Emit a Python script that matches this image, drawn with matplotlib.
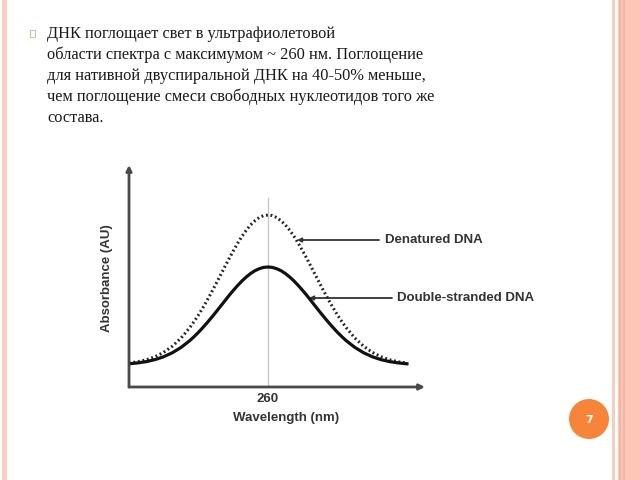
import matplotlib
matplotlib.use("Agg")
from matplotlib import pyplot as plt
from matplotlib.patches import Rectangle, Circle

# spectrum (wavelength in nm, absorbance in AU)
wavelength = [220, 222.5, 225, 227.5, 230, 232.5, 235, 237.5, 238.75, 240,
              241.25, 242.5, 243.75, 245, 246.25, 247.5, 248.75, 250, 251.25,
              252.5, 253.75, 255, 256.25, 257.5, 258.75, 260,
              261.25, 262.5, 263.75, 265, 266.25, 267.5, 268.75, 270, 271.25,
              272.5, 273.75, 275, 276.25, 277.5, 278.75, 280, 281.25, 282.5,
              285, 287.5, 290, 292.5, 295, 297.5, 300]
double_stranded = [0.232, 0.241, 0.254, 0.274, 0.303, 0.343, 0.396, 0.464, 0.504, 0.547,
                   0.594, 0.643, 0.695, 0.748, 0.803, 0.858, 0.913, 0.965, 1.014,
                   1.060, 1.100, 1.135, 1.163, 1.183, 1.196, 1.200,
                   1.196, 1.183, 1.163, 1.135, 1.100, 1.060, 1.014, 0.965, 0.913,
                   0.858, 0.803, 0.748, 0.695, 0.643, 0.594, 0.547, 0.504, 0.464,
                   0.396, 0.343, 0.303, 0.274, 0.254, 0.241, 0.232]
denatured = [0.239, 0.252, 0.272, 0.303, 0.347, 0.409, 0.490, 0.594, 0.655, 0.721,
             0.792, 0.868, 0.947, 1.029, 1.113, 1.197, 1.280, 1.360, 1.436,
             1.506, 1.568, 1.621, 1.663, 1.695, 1.714, 1.720,
             1.714, 1.695, 1.663, 1.621, 1.568, 1.506, 1.436, 1.360, 1.280,
             1.197, 1.113, 1.029, 0.947, 0.868, 0.792, 0.721, 0.655, 0.594,
             0.490, 0.409, 0.347, 0.303, 0.272, 0.252, 0.239]
peak_nm = 260
text_lines = ["ДНК поглощает свет в ультрафиолетовой",
              "области спектра с максимумом ~ 260 нм. Поглощение",
              "для нативной двуспиральной ДНК на 40-50% меньше,",
              "чем поглощение смеси свободных нуклеотидов того же",
              "состава."]
page_number = "7"

W, H = 640, 480
fig = plt.figure(figsize=(6.4, 4.8), dpi=100)
fig.patch.set_facecolor("white")

# background layer in pixel coordinates for the slide decorations
bg = fig.add_axes([0, 0, 1, 1])
bg.set_xlim(0, W)
bg.set_ylim(H, 0)
bg.axis("off")

bg.add_patch(Rectangle((2, 0), 5, H, color="#f9cfc2", lw=0))
bg.add_patch(Rectangle((612, 0), 2.5, H, color="#f3cdc0", lw=0))
bg.add_patch(Rectangle((618, 0), 22, H, color="#fdc6b6", lw=0))
bg.add_patch(Rectangle((619, 0), 1.5, H, color="#f3b6a2", lw=0))
bg.add_patch(Rectangle((623, 0), 1.5, H, color="#f3b6a2", lw=0))

bg.add_patch(Circle((589, 419), 20, color="#f6853a", lw=0))
bg.text(589, 420, page_number, color="white", fontsize=8, fontweight="bold",
        ha="center", va="center", family="DejaVu Sans")

# bullet box
bg.add_patch(Rectangle((30, 30), 5, 7, fill=False, ec="#e9b7a8", lw=0.8))

y0 = 33.5
for i, line in enumerate(text_lines):
    bg.text(47, y0 + i * 21.2, line, fontsize=11.8, family="Liberation Serif",
            color="#1a1a1a", ha="left", va="center")

# chart
x_left, x_right = 129, 425
y_base, y_top = 387, 165
ax = fig.add_axes([x_left / W, 1 - y_base / H, (x_right - x_left) / W,
                   (y_base - y_top) / H])
ax.set_xlim(220, 305.2)
ax.set_ylim(0, 2.22)
ax.patch.set_alpha(0)
for s in ax.spines.values():
    s.set_visible(False)
ax.set_xticks([])
ax.set_yticks([])

axis_col = "#4a4a4a"
ax.annotate("", xy=(1, 0), xytext=(0, 0), xycoords="axes fraction",
            arrowprops=dict(arrowstyle="-|>", color=axis_col, lw=2,
                            mutation_scale=8, shrinkA=0, shrinkB=0))
ax.annotate("", xy=(0, 1), xytext=(0, 0), xycoords="axes fraction",
            arrowprops=dict(arrowstyle="-|>", color=axis_col, lw=2,
                            mutation_scale=8, shrinkA=0, shrinkB=0))

ax.plot([peak_nm, peak_nm], [0, 1.89], color="#c8c8c8", lw=1)
ax.plot(wavelength, denatured, color="#222222", lw=2.2, linestyle=(0, (0.6, 0.9)))
ax.plot(wavelength, double_stranded, color="#111111", lw=2.3)

lab = dict(fontsize=9.5, fontweight="bold", color="#333333", family="Liberation Sans")
ax.text(peak_nm, -0.12, "260", ha="center", va="center", **lab)
fig.text(286 / W, 1 - 418 / H, "Wavelength (nm)", ha="center", va="center", **lab)
fig.text(107 / W, 1 - 278 / H, "Absorbance (AU)", ha="center", va="center",
         rotation=90, **lab)

# callouts
bg.annotate("", xy=(297, 240), xytext=(379, 240),
            arrowprops=dict(arrowstyle="-|>", color="#333333", lw=1.3,
                            mutation_scale=6, shrinkA=0, shrinkB=0))
bg.text(385, 240, "Denatured DNA", ha="left", va="center", **lab)
bg.annotate("", xy=(309, 298), xytext=(392, 298),
            arrowprops=dict(arrowstyle="-|>", color="#333333", lw=1.3,
                            mutation_scale=6, shrinkA=0, shrinkB=0))
bg.text(397, 298, "Double-stranded DNA", ha="left", va="center", **lab)

fig.savefig("out.png", dpi=100)
